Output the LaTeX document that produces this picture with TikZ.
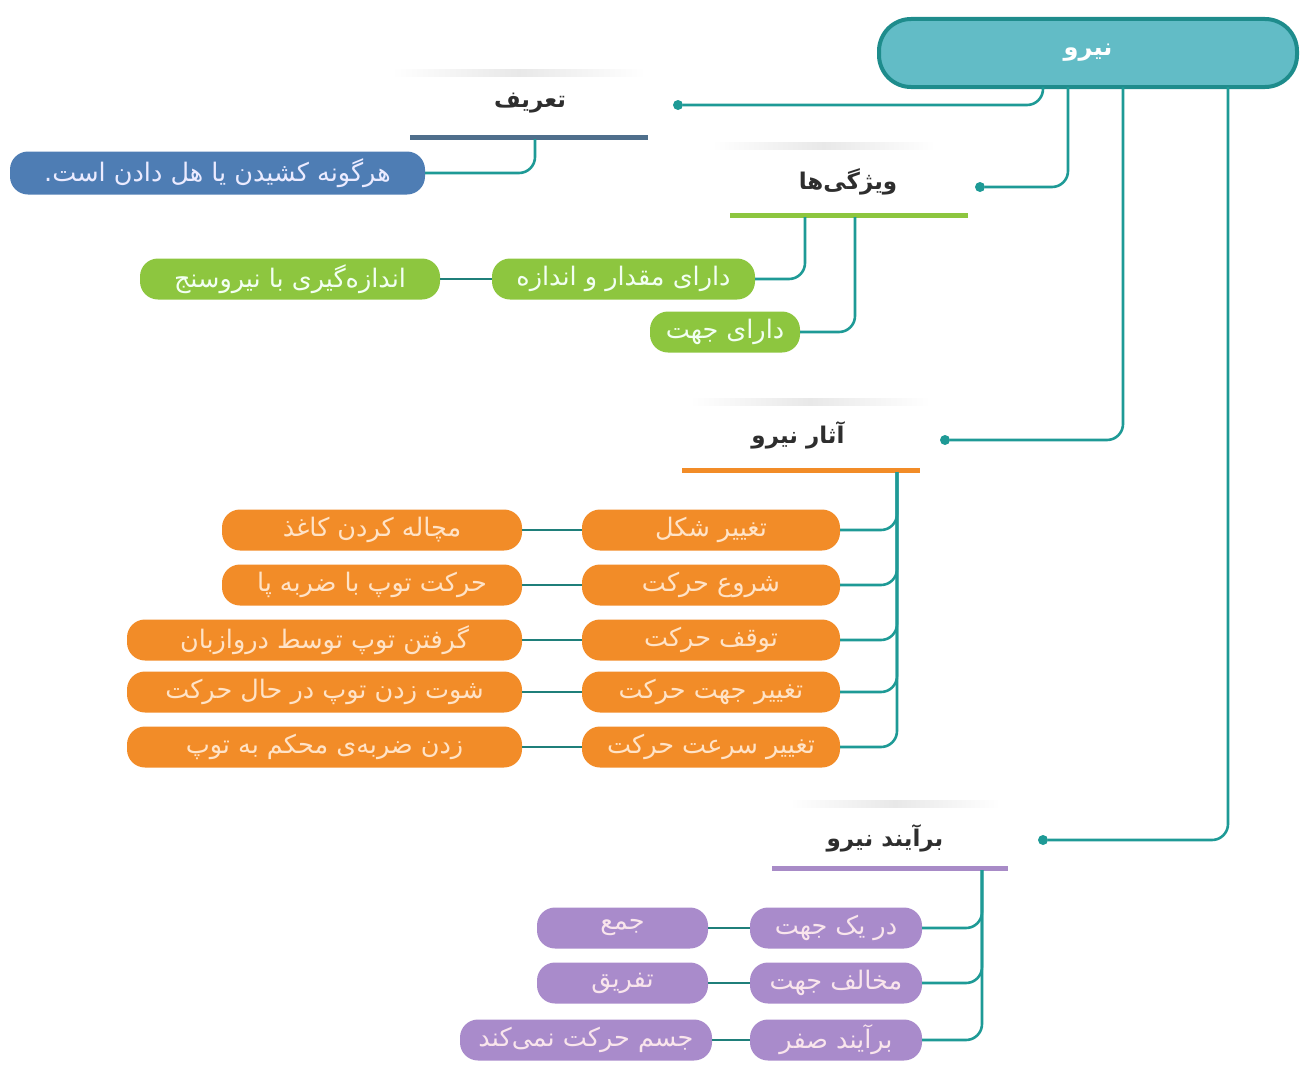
\documentclass[tikz,border=0pt]{standalone}
\usepackage{fontspec}
\newfontfamily\fa[Script=Arabic]{DejaVu Sans}
\TeXXeTstate=1
\newcommand{\RL}[1]{\beginR #1\endR}
\definecolor{tealA}{HTML}{1E9A96}
\definecolor{tealB}{HTML}{1F7F7A}
\definecolor{rootfill}{HTML}{62BCC6}
\definecolor{rootline}{HTML}{1E8C8C}
\definecolor{bluebar}{HTML}{4F6F8C}
\definecolor{bluefill}{HTML}{4E7DB4}
\definecolor{greenfill}{HTML}{8DC63F}
\definecolor{orangefill}{HTML}{F28C28}
\definecolor{purplefill}{HTML}{A98BCB}
\definecolor{purplebar}{HTML}{A88BC7}
\begin{document}
\begin{tikzpicture}[x=1pt,y=-1pt,
  conn/.style={draw=tealA,line width=2.6pt,rounded corners=16},
  conn2/.style={draw=tealB,line width=2.6pt},
  hdot/.style={circle,fill=tealA,minimum size=10pt,inner sep=0pt},
  hdr/.style={font=\fa\bfseries\fontsize{23}{26}\selectfont,text=black!82,inner sep=0pt},
  pbox/.style={rounded corners=18pt,minimum height=41pt,inner sep=0pt,font=\fa\fontsize{25.5}{28}\selectfont},
  ob/.style={pbox,fill=orangefill,text=orange!22},
  gb/.style={pbox,fill=greenfill,text=green!5!white},
  pb/.style={pbox,fill=purplefill,text=white!90!purple},
  bb/.style={pbox,fill=bluefill,text=white!92!blue,minimum height=43pt},
  shad/.style={left color=white,right color=white,middle color=black!9}
]
\useasboundingbox (0,0) rectangle (1305,1073);
% root
\node[rounded corners=32pt,fill=rootfill,draw=rootline,line width=4pt,minimum width=418pt,minimum height=68pt,
  font=\fa\bfseries\fontsize{24}{28}\selectfont,text=white] (root) at (1088,53) {\RL{نیرو}};
\coordinate (r1) at (1043,87);
\coordinate (r2) at (1068,87);
\coordinate (r3) at (1123,87);
\coordinate (r4) at (1228,87);

% ---------- definition
\shade[shad] (392,69) rectangle (645,76);
\node[hdr] (h1) at (530,103) {\RL{تعریف}};
\draw[bluebar,line width=5pt] (410,137) -- (648,137);
\node[hdot] (d1) at (678,105) {};
\draw[conn] (r1) |- (d1);
\node[bb,minimum width=415pt] (b1) at (217.5,173) {\RL{هرگونه کشیدن یا هل دادن است.}};
\coordinate (s1) at (535,139);
\draw[conn] (s1) |- (b1.east);

% ---------- properties
\shade[shad] (712,142) rectangle (935,149);
\node[hdr] (h2) at (848,182) {\RL{ویژگی^^^^200cها}};
\draw[greenfill,line width=5pt] (730,215) -- (968,215);
\node[hdot] (d2) at (980,187) {};
\draw[conn] (r2) |- (d2);
\node[gb,minimum width=263pt] (g1) at (623.5,279) {\RL{دارای مقدار و اندازه}};
\node[gb,minimum width=300pt] (g2) at (290,279) {\RL{اندازه^^^^200cگیری با نیروسنج}};
\node[gb,minimum width=150pt] (g3) at (725,332) {\RL{دارای جهت}};
\coordinate (s2a) at (805,217);
\coordinate (s2b) at (855,217);
\draw[conn] (s2a) |- (g1.east);
\draw[conn] (s2b) |- (g3.east);
\draw[conn2] (g1.west) -- (g2.east);

% ---------- effects
\shade[shad] (690,398) rectangle (930,405);
\node[hdr] (h3) at (798,435) {\RL{آثار نیرو}};
\draw[orangefill,line width=5pt] (682,470) -- (920,470);
\node[hdot] (d3) at (945,440) {};
\draw[conn] (r3) |- (d3);
\coordinate (s3) at (897,472);
\node[ob,minimum width=258pt] (o1) at (711,530) {\RL{تغییر شکل}};
\node[ob,minimum width=258pt] (o2) at (711,585) {\RL{شروع حرکت}};
\node[ob,minimum width=258pt] (o3) at (711,640) {\RL{توقف حرکت}};
\node[ob,minimum width=258pt] (o4) at (711,692) {\RL{تغییر جهت حرکت}};
\node[ob,minimum width=258pt] (o5) at (711,747) {\RL{تغییر سرعت حرکت}};
\node[ob,minimum width=300pt] (l1) at (372,530) {\RL{مچاله کردن کاغذ}};
\node[ob,minimum width=300pt] (l2) at (372,585) {\RL{حرکت توپ با ضربه پا}};
\node[ob,minimum width=395pt] (l3) at (324.5,640) {\RL{گرفتن توپ توسط دروازبان}};
\node[ob,minimum width=395pt] (l4) at (324.5,692) {\RL{شوت زدن توپ در حال حرکت}};
\node[ob,minimum width=395pt] (l5) at (324.5,747) {\RL{زدن ضربه^^^^200cی محکم به توپ}};
\foreach \i in {1,...,5}{
  \draw[conn] (s3) |- (o\i.east);
  \draw[conn2] (l\i.east) -- (o\i.west);
}

% ---------- resultant
\shade[shad] (790,800) rectangle (1000,807);
\node[hdr] (h4) at (885,838) {\RL{برآیند نیرو}};
\draw[purplebar,line width=5pt] (772,868) -- (1008,868);
\node[hdot] (d4) at (1043,840) {};
\draw[conn] (r4) |- (d4);
\coordinate (s4) at (982,870);
\node[pb,minimum width=172pt] (p1) at (836,928) {\RL{در یک جهت}};
\node[pb,minimum width=172pt] (p2) at (836,983) {\RL{مخالف جهت}};
\node[pb,minimum width=172pt] (p3) at (836,1040) {\RL{برآیند صفر}};
\node[pb,minimum width=171pt] (q1) at (622.5,928) {\RL{جمع}};
\node[pb,minimum width=171pt] (q2) at (622.5,983) {\RL{تفریق}};
\node[pb,minimum width=252pt] (q3) at (586,1040) {\RL{جسم حرکت نمی^^^^200cکند}};
\foreach \i in {1,2,3}{
  \draw[conn] (s4) |- (p\i.east);
  \draw[conn2] (q\i.east) -- (p\i.west);
}
\end{tikzpicture}
\end{document}
